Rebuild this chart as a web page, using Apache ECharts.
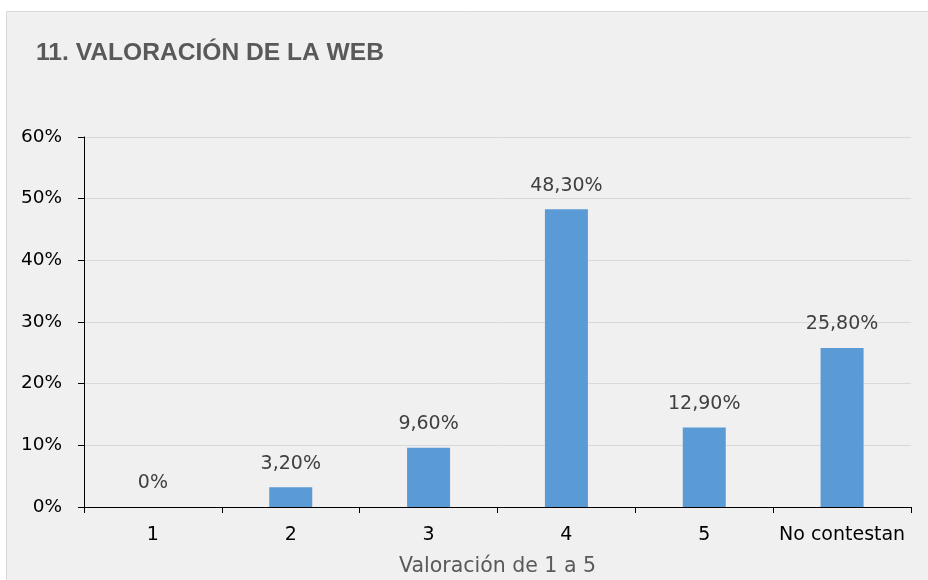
<!DOCTYPE html>
<html>
<head>
<meta charset="utf-8">
<script src="https://cdn.jsdelivr.net/npm/echarts@6/dist/echarts.min.js"></script>
<style>
html,body{margin:0;padding:0;background:#ffffff;}
#chart{width:928px;height:580px;}
</style>
</head>
<body>
<div id="chart"></div>
<script>
var titleText = '11. VALORACIÓN DE LA WEB';
var categories = ['1', '2', '3', '4', '5', 'No contestan'];
var values = [0, 3.2, 9.6, 48.3, 12.9, 25.8];
var yTicks = [0, 10, 20, 30, 40, 50, 60];
var xAxisName = 'Valoración de 1 a 5';

function fmtLabel(v) {
  if (v === 0) return '0%';
  return v.toFixed(2).replace('.', ',') + '%';
}

var chart = echarts.init(document.getElementById('chart'), null, {renderer: 'canvas'});
chart.setOption({
  animation: false,
  backgroundColor: '#ffffff',
  graphic: [{
    type: 'rect',
    z: -10,
    silent: true,
    shape: {x: 6.5, y: 11.5, width: 930, height: 580},
    style: {fill: '#f0f0f0', stroke: '#d9d9d9', lineWidth: 1}
  }],
  title: {
    text: titleText,
    left: 31,
    top: 36,
    textStyle: {fontFamily: 'Liberation Sans', fontWeight: 'bold', fontSize: 24.6, color: '#595959'}
  },
  grid: {left: 84, right: 17, top: 137, bottom: 73, containLabel: false, outerBoundsMode: 'none'},
  xAxis: {
    type: 'category',
    data: categories,
    name: xAxisName,
    nameLocation: 'middle',
    nameGap: 49,
    nameTextStyle: {fontFamily: 'DejaVu Sans', fontSize: 20.5, color: '#595959'},
    axisLine: {show: true, lineStyle: {color: '#000000', width: 1}},
    axisTick: {show: true, length: 6, alignWithLabel: false, lineStyle: {color: '#000000'}},
    axisLabel: {fontFamily: 'DejaVu Sans', fontSize: 19, color: '#000000', margin: 19, interval: 0}
  },
  yAxis: {
    type: 'value',
    min: yTicks[0],
    max: yTicks[yTicks.length - 1],
    interval: 10,
    axisLine: {show: true, lineStyle: {color: '#000000', width: 1}},
    axisTick: {show: true, length: 6, lineStyle: {color: '#000000'}},
    axisLabel: {fontFamily: 'DejaVu Sans', fontSize: 18.5, color: '#000000', margin: 22, formatter: '{value}%'},
    splitLine: {show: true, lineStyle: {color: '#d9d9d9', width: 1}}
  },
  series: [{
    type: 'bar',
    data: values,
    barWidth: 43,
    itemStyle: {color: '#5b9bd5'},
    label: {
      show: true,
      position: 'top',
      distance: 14,
      fontFamily: 'DejaVu Sans',
      fontSize: 19,
      color: '#404040',
      formatter: function (p) { return fmtLabel(p.value); }
    }
  }]
});
</script>
</body>
</html>
